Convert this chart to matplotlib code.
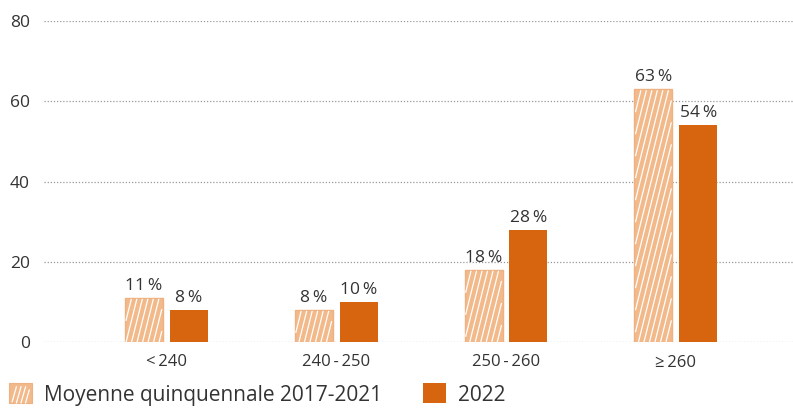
import matplotlib
matplotlib.use("Agg")
import matplotlib.pyplot as plt
from matplotlib.patches import Patch, Rectangle
from matplotlib.collections import LineCollection
from matplotlib.transforms import IdentityTransform
from matplotlib.legend_handler import HandlerBase
import numpy as np

plt.rcParams['font.family'] = ['Open Sans', 'DejaVu Sans']

categories = ["<\u2009240", "240\u2009-\u2009250", "250\u2009-\u2009260", "\u2265\u2009260"]
avg_2017_2021 = [11, 8, 18, 63]
values_2022 = [8, 10, 28, 54]
series_names = ["Moyenne quinquennale 2017-2021", "2022"]
yticks = [0, 20, 40, 60, 80]

light = "#F2B98A"
dark = "#D7650F"
text_color = "#333333"

fig = plt.figure(figsize=(7.93, 4.08), dpi=100)
ax = fig.add_axes([44/793, 1-342/408, (793-44)/793, (342-21)/408])

x = np.arange(len(categories))
w = 0.2235
off = 0.132

b1 = ax.bar(x - off, avg_2017_2021, width=w, color=light, edgecolor="#EDB182",
            linewidth=1, zorder=3)
b2 = ax.bar(x + off, values_2022, width=w, color=dark, linewidth=0, zorder=3)

ax.set_ylim(0, 80)
ax.set_xlim(-0.72, 3.69)


def steep_segments(x0, y0, x1, y1, spacing=5.5, slope=4.0, inset=1.0):
    x0 += inset; x1 -= inset; y1 -= inset; y0 += 0
    h = y1 - y0
    dx = h / slope
    segs = []
    start = x0 - dx
    while start < x1:
        t0 = max(0.0, (x0 - start) / dx)
        t1 = min(1.0, (x1 - start) / dx)
        if t1 > t0:
            segs.append([(start + dx * t0, y0 + h * t0), (start + dx * t1, y0 + h * t1)])
        start += spacing
    return segs


segs = []
for rect in b1:
    (px0, py0), (px1, py1) = ax.transData.transform(
        [(rect.get_x(), rect.get_y()),
         (rect.get_x() + rect.get_width(), rect.get_y() + rect.get_height())])
    segs += steep_segments(px0, py0, px1, py1)
ax.add_collection(LineCollection(segs, colors="white", linewidths=0.9,
                                 transform=IdentityTransform(), zorder=4))

for rect, v in zip(b1, avg_2017_2021):
    ax.text(rect.get_x() + rect.get_width()/2, v + 1.0, f"{v}\u2009%",
            ha="center", va="bottom", fontsize=12.5, color=text_color)
for rect, v in zip(b2, values_2022):
    ax.text(rect.get_x() + rect.get_width()/2, v + 1.0, f"{v}\u2009%",
            ha="center", va="bottom", fontsize=12.5, color=text_color)

ax.set_yticks(yticks)
ax.set_yticklabels([str(t) for t in yticks], fontsize=12.5, color=text_color)
ax.set_xticks(x)
ax.set_xticklabels(categories, fontsize=12, color=text_color)
ax.tick_params(axis="both", length=0)
ax.tick_params(axis="y", pad=10)
ax.tick_params(axis="x", pad=9)
for s in ax.spines.values():
    s.set_visible(False)
ax.yaxis.grid(True, linestyle=(0, (1, 1.5)), color="#999999", linewidth=0.9, zorder=0)
ax.set_axisbelow(True)


class SteepHatchHandler(HandlerBase):
    def create_artists(self, legend, orig_handle, xdescent, ydescent, width, height,
                       fontsize, trans):
        r = Rectangle((-xdescent, -ydescent), width, height, facecolor=light,
                      edgecolor="#EDB182", linewidth=0.8, transform=trans)
        s = steep_segments(-xdescent, -ydescent, -xdescent + width, -ydescent + height,
                           spacing=width / 5.0, slope=3.5, inset=width * 0.12)
        lc = LineCollection(s, colors="white", linewidths=0.9, transform=trans)
        return [r, lc]


handles = [Patch(facecolor=light, linewidth=0), Patch(facecolor=dark, linewidth=0)]
fig.legend(handles, series_names, loc="lower left", bbox_to_anchor=(-0.012, -0.04),
           ncol=2, frameon=False, fontsize=15, handlelength=1.1, handleheight=1.1,
           handletextpad=0.55, columnspacing=2.0, labelcolor=text_color,
           handler_map={handles[0]: SteepHatchHandler()})

fig.savefig("out.png", dpi=100)
